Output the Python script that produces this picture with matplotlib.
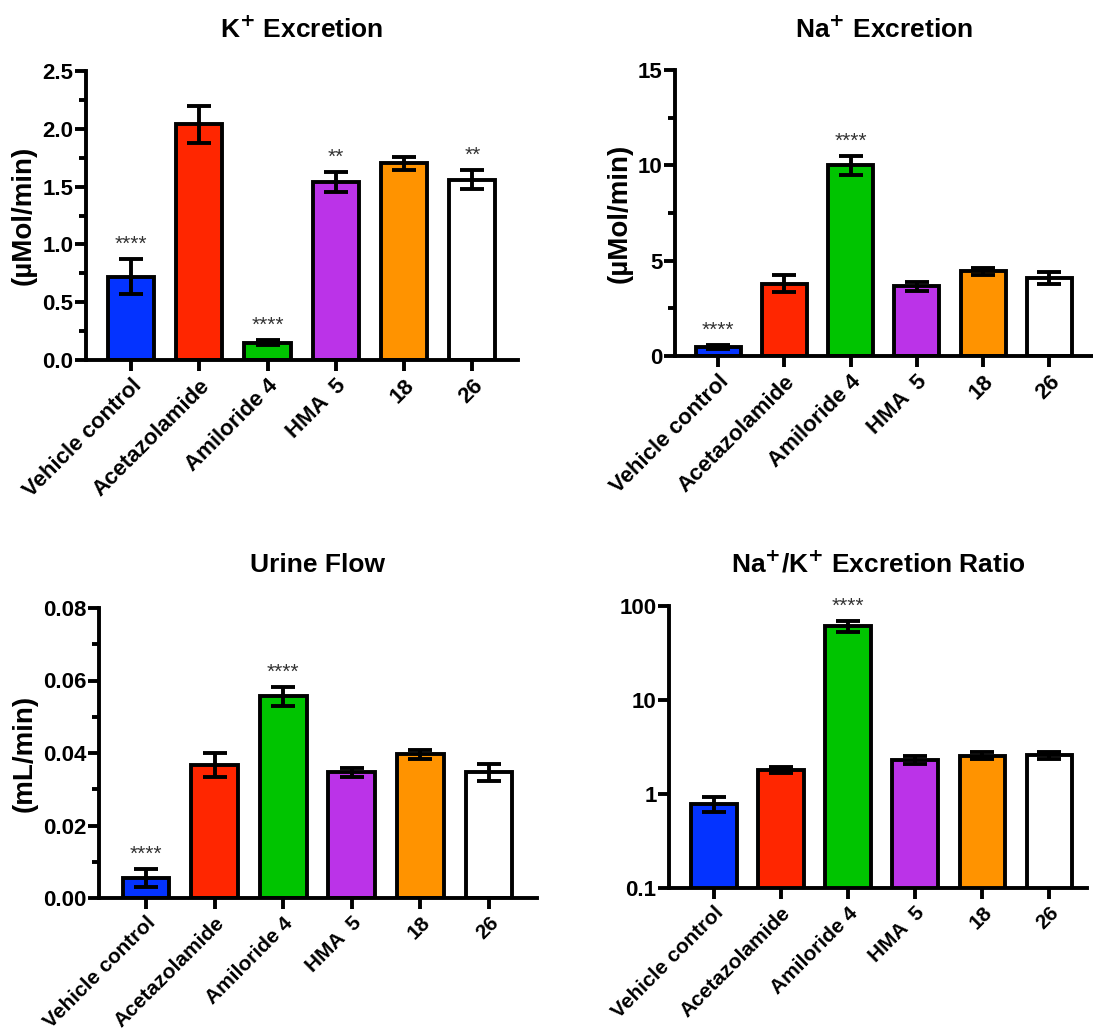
import matplotlib
matplotlib.use("Agg")
import matplotlib.pyplot as plt
import numpy as np

plt.rcParams['font.family'] = ['Liberation Sans', 'DejaVu Sans']

categories = ["Vehicle control", "Acetazolamide", "Amiloride 4", "HMA  5", "18", "26"]
colors = ["#0433FF", "#FF2600", "#00C400", "#BB33E8", "#FF9300", "#FFFFFF"]

k_mean = [0.72, 2.04, 0.15, 1.54, 1.70, 1.56]
k_err = [0.15, 0.16, 0.02, 0.09, 0.06, 0.08]
k_sig = ["****", "", "****", "**", "", "**"]

na_mean = [0.47, 3.80, 10.0, 3.65, 4.45, 4.10]
na_err = [0.10, 0.45, 0.50, 0.25, 0.18, 0.30]
na_sig = ["****", "", "****", "", "", ""]

uf_mean = [0.0055, 0.0366, 0.0556, 0.0347, 0.0396, 0.0347]
uf_err = [0.0024, 0.0033, 0.0025, 0.0013, 0.0013, 0.0023]
uf_sig = ["****", "", "****", "", "", ""]

ratio_mean = [0.79, 1.80, 61.5, 2.32, 2.56, 2.57]
ratio_err = [0.14, 0.14, 8.0, 0.23, 0.23, 0.23]
ratio_sig = ["", "", "****", "", "", ""]

W, H = 1093, 1033
fig = plt.figure(figsize=(W / 100, H / 100), dpi=100)

def px_axes(left, right, top, bottom):
    return fig.add_axes([left / W, 1 - bottom / H, (right - left) / W, (bottom - top) / H])

LW = 2.8

def panel(ax, means, errs, sigs, title, ylabel, ylim, yticks, yticklabels,
          minor=None, log=False, xlim=(-0.66, 5.7), title_pad=24, xfs=16):
    x = np.arange(len(categories))
    ax.bar(x, means, width=0.68, color=colors, edgecolor="black", linewidth=LW, zorder=2)
    ax.errorbar(x, means, yerr=errs, fmt="none", ecolor="black", elinewidth=LW,
                capsize=8.5, capthick=LW, zorder=3)
    if log:
        ax.set_yscale("log")
    ax.set_ylim(*ylim)
    ax.set_xlim(*xlim)
    ax.set_yticks(yticks)
    ax.set_yticklabels(yticklabels)
    if minor is not None:
        ax.set_yticks(minor, minor=True)
    else:
        ax.set_yticks([], minor=True)
    ax.set_xticks(x)
    ax.set_xticklabels(categories, rotation=45, ha="right", rotation_mode="anchor")
    for lab in ax.get_yticklabels():
        lab.set_fontweight("bold")
        lab.set_fontsize(16)
    for lab in ax.get_xticklabels():
        lab.set_fontweight("bold")
        lab.set_fontsize(xfs)
    ax.tick_params(axis="y", which="major", length=8, width=LW, pad=1)
    ax.tick_params(axis="y", which="minor", length=5, width=LW)
    ax.tick_params(axis="x", which="major", length=8, width=LW, pad=3)
    for s in ["top", "right"]:
        ax.spines[s].set_visible(False)
    for s in ["left", "bottom"]:
        ax.spines[s].set_linewidth(LW)
    ax.set_title(title, fontsize=19, fontweight="bold", pad=title_pad)
    if ylabel:
        ax.set_ylabel(ylabel, fontsize=20, fontweight="bold", labelpad=4)
    for xi, m, e, s in zip(x, means, errs, sigs):
        if s:
            top = m + e
            if log:
                yy = top * 1.12
            else:
                yy = top + (ylim[1] - ylim[0]) * 0.018
            ax.text(xi, yy, s, ha="center", va="bottom", fontsize=15, color="#333333")

ax1 = px_axes(86, 518, 71, 360)
panel(ax1, k_mean, k_err, k_sig, "K$^{\\mathbf{+}}$ Excretion", "(\u00b5Mol/min)",
      (0, 2.5), [0, 0.5, 1.0, 1.5, 2.0, 2.5], ["0.0", "0.5", "1.0", "1.5", "2.0", "2.5"],
      minor=[0.25, 0.75, 1.25, 1.75, 2.25], xlim=(-0.66, 5.67), title_pad=24)

ax2 = px_axes(675, 1093, 70, 356)
panel(ax2, na_mean, na_err, na_sig, "Na$^{\\mathbf{+}}$ Excretion", "(\u00b5Mol/min)",
      (0, 15), [0, 5, 10, 15], ["0", "5", "10", "15"],
      minor=[2.5, 7.5, 12.5], xlim=(-0.65, 5.66), title_pad=23)

ax3 = px_axes(99, 537, 608, 898)
panel(ax3, uf_mean, uf_err, uf_sig, "Urine Flow", "(mL/min)",
      (0, 0.08), [0, 0.02, 0.04, 0.06, 0.08], ["0.00", "0.02", "0.04", "0.06", "0.08"],
      minor=[0.01, 0.03, 0.05, 0.07], xlim=(-0.685, 5.7), title_pad=26, xfs=15)

ax4 = px_axes(669, 1087, 606, 888)
panel(ax4, ratio_mean, ratio_err, ratio_sig, "Na$^{\\mathbf{+}}$/K$^{\\mathbf{+}}$ Excretion Ratio", "",
      (0.1, 100), [0.1, 1, 10, 100], ["0.1", "1", "10", "100"],
      minor=None, log=True, xlim=(-0.67, 5.56), title_pad=24, xfs=15)

fig.savefig("out.png", dpi=100)
